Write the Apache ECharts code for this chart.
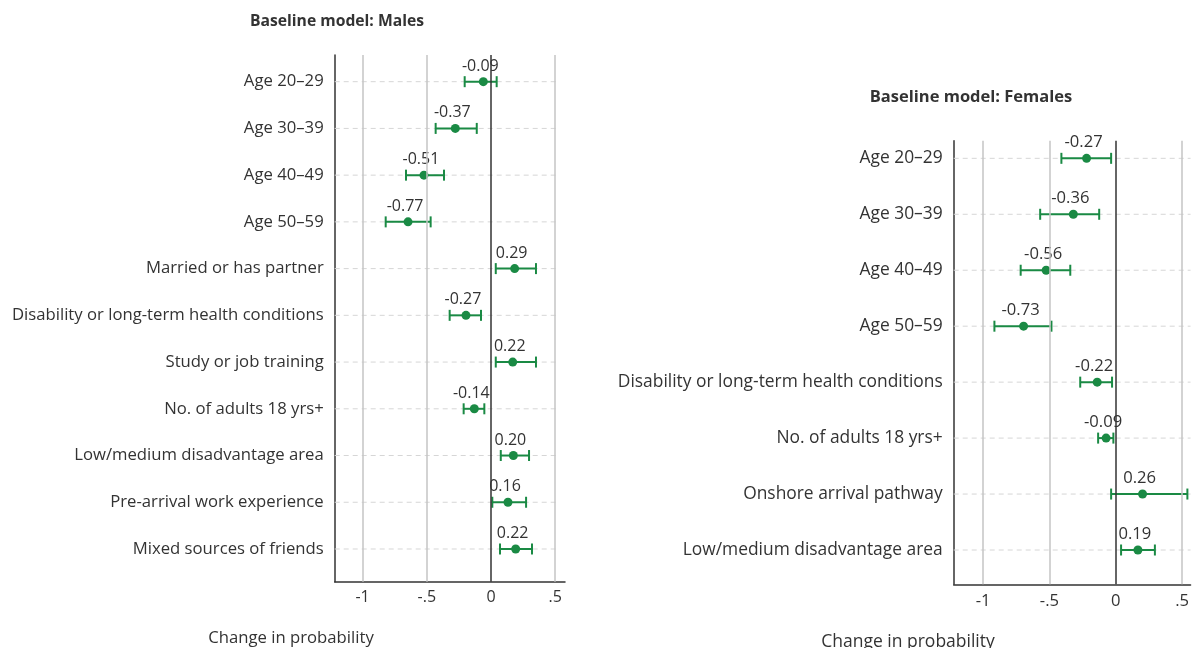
<!DOCTYPE html>
<html>
<head>
<meta charset="utf-8">
<script src="https://cdn.jsdelivr.net/npm/echarts@6/dist/echarts.min.js"></script>
<style>
html,body{margin:0;padding:0;background:#fff;}
#c{width:1192px;height:648px;}
</style>
</head>
<body>
<div id="c"></div>
<script>
// ---------- DATA ----------
const malesCats = ["Age 20–29","Age 30–39","Age 40–49","Age 50–59","Married or has partner","Disability or long-term health conditions","Study or job training","No. of adults 18 yrs+","Low/medium disadvantage area","Pre-arrival work experience","Mixed sources of friends"];
const malesEst  = [-0.060,-0.278,-0.522,-0.646,0.184,-0.195,0.169,-0.130,0.174,0.132,0.192];
const malesLow  = [-0.205,-0.431,-0.662,-0.820,0.037,-0.322,0.037,-0.213,0.076,0.010,0.070];
const malesHigh = [0.044,-0.111,-0.366,-0.470,0.350,-0.078,0.350,-0.052,0.296,0.273,0.319];
const malesLabels = ["-0.09","-0.37","-0.51","-0.77","0.29","-0.27","0.22","-0.14","0.20","0.16","0.22"];

const femalesCats = ["Age 20–29","Age 30–39","Age 40–49","Age 50–59","Disability or long-term health conditions","No. of adults 18 yrs+","Onshore arrival pathway","Low/medium disadvantage area"];
const femalesEst  = [-0.220,-0.320,-0.525,-0.695,-0.140,-0.073,0.202,0.167];
const femalesLow  = [-0.410,-0.570,-0.717,-0.915,-0.268,-0.133,-0.035,0.040];
const femalesHigh = [-0.035,-0.125,-0.343,-0.485,-0.028,-0.018,0.540,0.295];
const femalesLabels = ["-0.27","-0.36","-0.56","-0.73","-0.22","-0.09","0.26","0.19"];

const xTickValues = [-1,-0.5,0,0.5];
const xTickLabels = ["-1","-.5","0",".5"];
const gridValues = [-1,-0.5,0.5];

const titles = ["Baseline model: Males","Baseline model: Females"];
const axisTitle = "Change in probability";

// ---------- STYLE ----------
const FONT = "Open Sans";
const GREEN = "#1a8a44";
const TEXT = "#333333";
const AXIS = "#333333";

const panels = [
  {cats:malesCats, est:malesEst, low:malesLow, high:malesHigh, labels:malesLabels,
   grid:{left:334.7, top:55, width:230.3, height:526.7},
   xmin:-1.217, xmax:0.576, ymin:-0.571, ymax:10.70, dashEnd:0.52, fs:16.7, vfs:16},
  {cats:femalesCats, est:femalesEst, low:femalesLow, high:femalesHigh, labels:femalesLabels,
   grid:{left:953.7, top:140.7, width:238.3, height:443.6},
   xmin:-1.222, xmax:0.564, ymin:-0.315, ymax:7.613, dashEnd:0.6, fs:17.4, vfs:16.6}
];

const chart = echarts.init(document.getElementById('c'), null, {renderer:'canvas'});

const grids=[], xAxes=[], yAxes=[], series=[];
panels.forEach((p,i)=>{
  grids.push(Object.assign({containLabel:false}, p.grid));
  const idxs = p.cats.map((_,k)=>k);
  xAxes.push({
    type:'value', gridIndex:i, min:p.xmin, max:p.xmax,
    axisLine:{show:true, onZero:false, lineStyle:{color:AXIS, width:1.5}},
    axisTick:{show:false},
    splitLine:{show:false},
    axisLabel:{customValues:xTickValues, color:TEXT, fontFamily:FONT, fontSize:p.vfs, margin:8,
      formatter:(v)=>{const k=xTickValues.findIndex(t=>Math.abs(t-v)<1e-9); return k>=0?xTickLabels[k]:'';}}
  });
  yAxes.push({
    type:'value', gridIndex:i, inverse:true, min:p.ymin, max:p.ymax,
    axisLine:{show:true, onZero:false, lineStyle:{color:AXIS, width:1.5}},
    axisTick:{show:false},
    splitLine:{show:false},
    axisLabel:{customValues:idxs, color:TEXT, fontFamily:FONT, fontSize:p.fs, margin:11,
      padding:[2,0,0,0],
      formatter:(v)=>p.cats[Math.round(v)]}
  });
  // dashed category lines
  series.push({
    type:'custom', xAxisIndex:i, yAxisIndex:i, silent:true, z:1,
    data: idxs.map(k=>[k]),
    encode:{y:0},
    renderItem:(params, api)=>{
      const y = api.value(0);
      const a = api.coord([p.xmin, y]);
      const b = api.coord([Math.min(p.dashEnd,p.xmax), y]);
      return {type:'line', shape:{x1:a[0], y1:a[1], x2:b[0], y2:b[1]},
        style:{stroke:'#d6d6d6', lineWidth:1, lineDash:[5,4]}};
    }
  });
  // error bars
  series.push({
    type:'custom', xAxisIndex:i, yAxisIndex:i, silent:true, z:3,
    data: idxs.map(k=>[p.low[k], p.high[k], k]),
    encode:{x:[0,1], y:2},
    renderItem:(params, api)=>{
      const a = api.coord([api.value(0), api.value(2)]);
      const b = api.coord([api.value(1), api.value(2)]);
      const h = 5.5;
      const st = {stroke:GREEN, lineWidth:2};
      return {type:'group', children:[
        {type:'line', shape:{x1:a[0],y1:a[1],x2:b[0],y2:b[1]}, style:st},
        {type:'line', shape:{x1:a[0],y1:a[1]-h,x2:a[0],y2:a[1]+h}, style:st},
        {type:'line', shape:{x1:b[0],y1:b[1]-h,x2:b[0],y2:b[1]+h}, style:st}
      ]};
    }
  });
  // points + labels + vertical reference lines
  series.push({
    type:'scatter', xAxisIndex:i, yAxisIndex:i, z:4,
    symbol:'circle', symbolSize:9,
    itemStyle:{color:GREEN, opacity:1},
    data: idxs.map(k=>[p.est[k], k]),
    label:{show:true, position:'top', distance:3, offset:[-3,0], color:TEXT, fontFamily:FONT, fontSize:p.vfs,
      formatter:(d)=>p.labels[d.dataIndex]},
    markLine:{silent:true, symbol:'none', label:{show:false}, animation:false,
      data:[
        ...gridValues.map(v=>({xAxis:v, lineStyle:{color:'#c4c4c4', width:1.5, type:'solid'}})),
        {xAxis:0, lineStyle:{color:AXIS, width:1.5, type:'solid'}}
      ]}
  });
});

chart.setOption({
  animation:false,
  backgroundColor:'#fff',
  title:[
    {text:titles[0], left:332, top:9, textAlign:'center',
     textStyle:{fontFamily:FONT, fontSize:15.7, fontWeight:'bold', color:TEXT}},
    {text:titles[1], left:966, top:84, textAlign:'center',
     textStyle:{fontFamily:FONT, fontSize:16.5, fontWeight:'bold', color:TEXT}},
    {text:axisTitle, left:286, top:625, textAlign:'center',
     textStyle:{fontFamily:FONT, fontSize:16.7, fontWeight:'normal', color:TEXT}},
    {text:axisTitle, left:903, top:628, textAlign:'center',
     textStyle:{fontFamily:FONT, fontSize:17.5, fontWeight:'normal', color:TEXT}}
  ],
  grid:grids, xAxis:xAxes, yAxis:yAxes, series:series
});
</script>
</body>
</html>
